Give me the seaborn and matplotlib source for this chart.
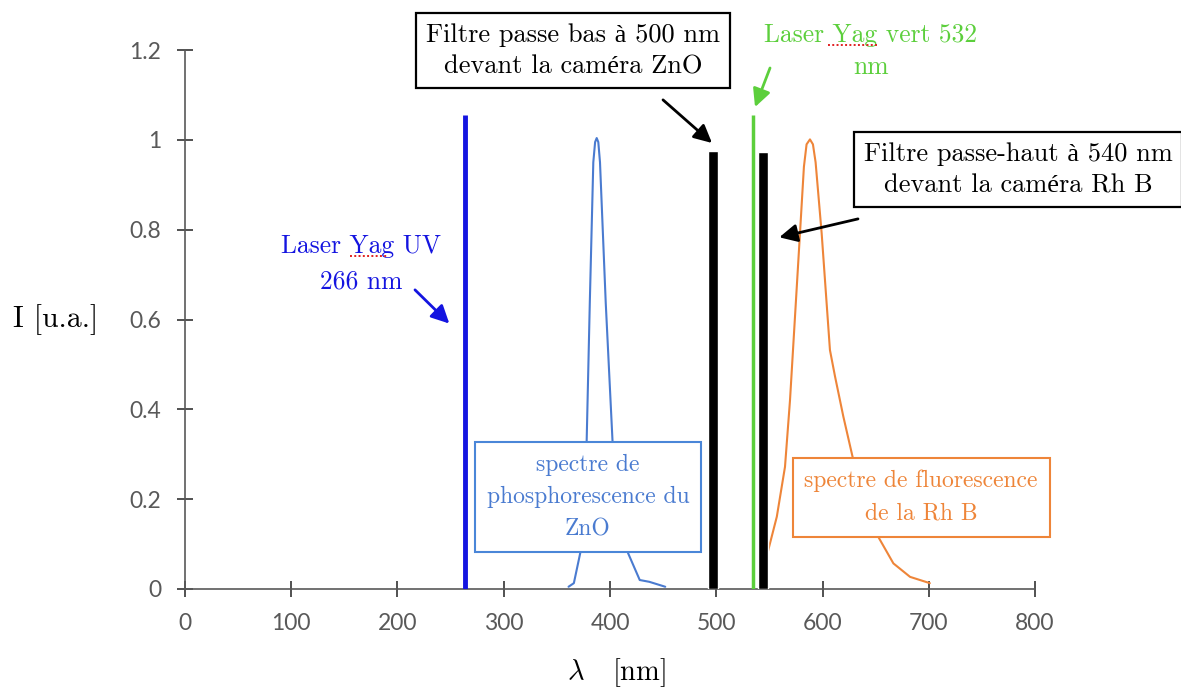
import matplotlib.pyplot as plt
import seaborn as sns

# spectre de phosphorescence du ZnO
zno_nm = [361, 366, 372, 378, 381, 384.3, 386, 387.5, 389, 390.6, 396, 402.5, 417, 428, 437, 452]
zno_int = [0.005, 0.013, 0.08, 0.324, 0.637, 0.95, 0.995, 1.004, 0.995, 0.95, 0.637, 0.324, 0.08, 0.02, 0.016, 0.005]

# spectre de fluorescence de la Rh B
rhb_nm = [545, 549, 557, 564.7, 569.4, 574.1, 578.8, 582.5, 585, 588.2, 591, 593.5, 599.2, 607, 611.8, 619.6, 629, 652.5, 666.7, 682.4, 701]
rhb_int = [0.05, 0.087, 0.161, 0.272, 0.42, 0.606, 0.792, 0.94, 0.99, 1.001, 0.99, 0.95, 0.792, 0.532, 0.473, 0.384, 0.287, 0.116, 0.057, 0.027, 0.013]

# lasers
laser_nm = [264, 535]
laser_int = [1.055, 1.055]

# filtres
filtre_nm = [497, 544]
filtre_int = [0.975, 0.973]

xticks = [0, 100, 200, 300, 400, 500, 600, 700, 800]
yticks = [0, 0.2, 0.4, 0.6, 0.8, 1, 1.2]
ytick_labels = ["0", "0.2", "0.4", "0.6", "0.8", "1", "1.2"]

sns.set_theme(style="white")
plt.rcParams["font.family"] = ["cmr10", "Liberation Serif"]
plt.rcParams["mathtext.fontset"] = "cm"
plt.rcParams["axes.unicode_minus"] = False
plt.rcParams["axes.formatter.use_mathtext"] = True
plt.rcParams["text.color"] = "black"

fig = plt.figure(figsize=(11.81, 6.88), dpi=100)
ax = fig.add_axes([0.1566, 0.1439, 0.7198, 0.7834])

sns.lineplot(x=zno_nm, y=zno_int, color="#4a7bd0", lw=1.5, sort=False, ax=ax)
sns.lineplot(x=rhb_nm, y=rhb_int, color="#ee8539", lw=1.5, sort=False, ax=ax)
ax.vlines(laser_nm, 0, laser_int, colors=["#1414e0", "#5ccf3c"], lw=[3.5, 2.5], zorder=3)
ax.bar(filtre_nm, filtre_int, width=9.5, color="black", zorder=3)

ax.set_xlim(0, 800)
ax.set_ylim(0, 1.2)
ax.set_xticks(xticks)
ax.set_xticklabels([str(t) for t in xticks], fontfamily="Lato")
ax.set_yticks(yticks)
ax.set_yticklabels(ytick_labels, fontfamily="Lato")
ax.tick_params(bottom=True, left=True, direction="inout", length=12, width=1.2, color="#333333",
               labelcolor="#595959", labelsize=16.5, pad=11)
sns.despine(ax=ax)
for s in ["left", "bottom"]:
    ax.spines[s].set_color("#595959")
    ax.spines[s].set_linewidth(1.2)

ax.set_ylabel("I [u.a.]", rotation=0, fontsize=21.5, va="center", ha="center", color="black")
ax.yaxis.set_label_coords(-0.152, 0.499)
ax.set_xlabel(r"$\lambda$   [nm]", fontsize=20.5, va="center", color="black")
ax.xaxis.set_label_coords(0.508, -0.156)

def fleche(x0, y0, x1, y1, col):
    ax.annotate("", xy=(x1, y1), xytext=(x0, y0), annotation_clip=False,
                arrowprops=dict(arrowstyle="-|>,head_length=0.6,head_width=0.3", color=col, lw=2,
                                mutation_scale=18, shrinkA=0, shrinkB=0), zorder=6)

def souligne(x0, x1, y):
    # soulignement pointillé rouge du correcteur
    ax.plot([x0, x1], [y, y], color="#e02020", lw=1.4, ls=(0, (1, 1.2)), clip_on=False, zorder=6)

ax.text(365.6, 1.198, "Filtre passe bas à 500 nm\ndevant la caméra ZnO", ha="center", va="center",
        fontsize=19, linespacing=1.4, clip_on=False, zorder=5,
        bbox=dict(boxstyle="square,pad=0.38", fc="white", ec="black", lw=1.6))
fleche(449.9, 1.089, 496, 0.993, "black")

ax.text(645.6, 1.198, "Laser Yag vert 532\nnm", ha="center", va="center", color="#5ccf3c",
        fontsize=18.4, linespacing=1.45, clip_on=False, zorder=5)
souligne(605, 652, 1.212)
fleche(550.6, 1.160, 536.5, 1.073, "#5ccf3c")

ax.text(784, 0.933, "Filtre passe-haut à 540 nm\ndevant la caméra Rh B", ha="center", va="center",
        fontsize=19, linespacing=1.4, clip_on=False, zorder=5,
        bbox=dict(boxstyle="square,pad=0.38", fc="white", ec="black", lw=1.6))
fleche(633.4, 0.824, 559.3, 0.783, "black")

ax.text(165.6, 0.7235, "Laser Yag UV\n266 nm", ha="center", va="center", color="#1414e0",
        fontsize=18.4, linespacing=1.6, zorder=5)
souligne(155, 191, 0.742)
fleche(216.5, 0.666, 248.8, 0.591, "#1414e0")

ax.text(379.3, 0.205, "spectre de\nphosphorescence du\nZnO", ha="center", va="center", color="#4a7bd0",
        fontsize=17, linespacing=1.6, zorder=5,
        bbox=dict(boxstyle="square,pad=0.5", fc="white", ec="#4a86d8", lw=1.5))

ax.text(692.7, 0.204, "spectre de fluorescence\nde la Rh B", ha="center", va="center", color="#ee8539",
        fontsize=17, linespacing=1.6, clip_on=False, zorder=5,
        bbox=dict(boxstyle="square,pad=0.5", fc="white", ec="#ee8539", lw=1.5))

fig.savefig("out.png", dpi=100)
